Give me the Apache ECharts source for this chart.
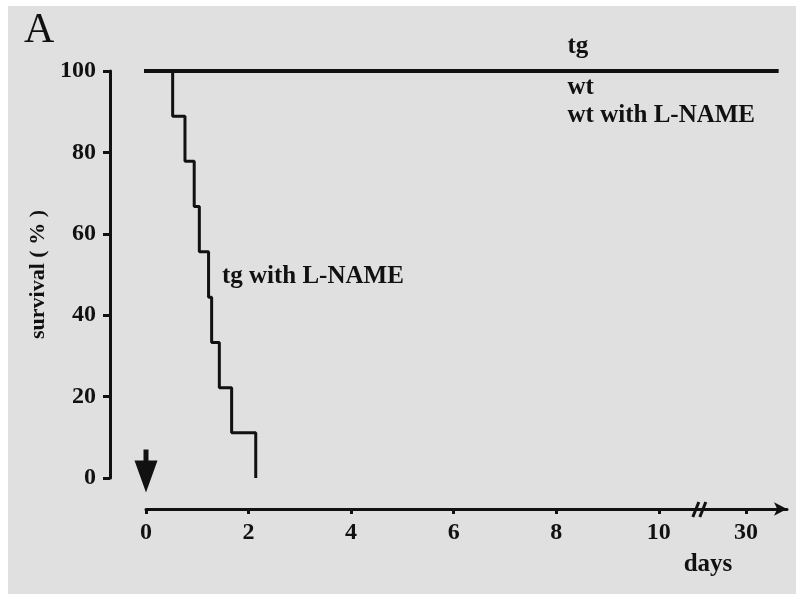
<!DOCTYPE html>
<html>
<head>
<meta charset="utf-8">
<script src="https://cdn.jsdelivr.net/npm/echarts@6/dist/echarts.min.js"></script>
<style>
  html, body { margin: 0; padding: 0; background: #ffffff; }
  #chart { width: 796px; height: 594px; }
</style>
</head>
<body>
<div id="chart"></div>
<script>
// Kaplan-Meier survival after L-NAME treatment (day 0 = start of treatment)
const dayTicks = [0, 2, 4, 6, 8, 10, 30];
const survivalTicks = [0, 20, 40, 60, 80, 100];

// Groups with no deaths over the whole observation period
const flatDays = [-0.18, 30.63];
const tgSurvival = [100, 100];
const wtSurvival = [100, 100];
const wtLnameSurvival = [100, 100];

// tg with L-NAME: one death per step (n = 9)
const tgLnameDays = [0, 0.52, 0.76, 0.94, 1.04, 1.22, 1.28, 1.43, 1.67, 2.14];
const tgLnameSurvival = [100, 88.9, 77.8, 66.7, 55.6, 44.4, 33.3, 22.2, 11.1, 0];

const groupNames = ['tg', 'wt', 'wt with L-NAME', 'tg with L-NAME'];

// Day axis is broken between 10 and 30
const dayBreak = { start: 10.8, end: 29.1 };
const dayMax = 30.8;

const serif = '"Liberation Serif", "DejaVu Serif", serif';
const ink = '#111111';
const xAxisDrop = 31;   // day axis sits below the plot
const yAxisShift = 36;  // survival axis sits left of the plot

const pair = (xs, ys) => xs.map((x, i) => [x, ys[i]]);

const chart = echarts.init(document.getElementById('chart'), null, { renderer: 'canvas' });

const flatStyle = { color: ink, width: 4 };

chart.setOption({
  backgroundColor: '#ffffff',
  animation: false,
  grid: { left: 146, right: 9, top: 71, bottom: 116, containLabel: false },
  xAxis: {
    type: 'value',
    min: 0,
    max: dayMax,
    offset: xAxisDrop,
    breaks: [{ start: dayBreak.start, end: dayBreak.end, gap: 0 }],
    breakArea: { show: false },
    splitLine: { show: false },
    axisLine: {
      show: true,
      onZero: false,
      breakLine: false,
      symbol: ['none', 'arrow'],
      symbolSize: [10, 13],
      lineStyle: { color: ink, width: 3 }
    },
    axisTick: { show: true, length: 5, lineStyle: { color: ink, width: 3 }, customValues: dayTicks },
    axisLabel: {
      customValues: dayTicks,
      margin: 12,
      color: ink,
      fontFamily: serif,
      fontWeight: 'bold',
      fontSize: 24
    }
  },
  yAxis: {
    type: 'value',
    min: 0,
    max: 100,
    interval: 20,
    offset: yAxisShift,
    name: 'survival ( % )',
    nameLocation: 'middle',
    nameGap: 60,
    nameTextStyle: { color: ink, fontFamily: serif, fontWeight: 'bold', fontSize: 22 },
    splitLine: { show: false },
    axisLine: { show: true, onZero: false, lineStyle: { color: ink, width: 3 } },
    axisTick: { show: true, length: 7, lineStyle: { color: ink, width: 3 } },
    axisLabel: {
      margin: 14,
      color: ink,
      fontFamily: serif,
      fontWeight: 'bold',
      fontSize: 24
    }
  },
  series: [
    {
      name: groupNames[0], type: 'line', data: pair(flatDays, tgSurvival),
      symbol: 'none', clip: false, lineStyle: flatStyle, z: 3
    },
    {
      name: groupNames[1], type: 'line', data: pair(flatDays, wtSurvival),
      symbol: 'none', clip: false, lineStyle: flatStyle, z: 3
    },
    {
      name: groupNames[2], type: 'line', data: pair(flatDays, wtLnameSurvival),
      symbol: 'none', clip: false, lineStyle: flatStyle, z: 3
    },
    {
      name: groupNames[3], type: 'line', step: 'end',
      data: pair(tgLnameDays, tgLnameSurvival),
      symbol: 'none', clip: false,
      lineStyle: { color: ink, width: 3 },
      z: 2,
      markPoint: {
        silent: true,
        symbol: 'path://M9,0 L14,0 L14,11 L23,11 L11.5,43 L0,11 L9,11 Z',
        symbolSize: [23, 43],
        symbolOffset: [0, -7],
        itemStyle: { color: ink },
        label: { show: false },
        data: [{ coord: [0, 0] }]
      }
    }
  ]
});

// Text annotations and the break mark, anchored to the axes
const px = (d, s) => chart.convertToPixel({ gridIndex: 0 }, [d, s]);
const flatAnchor = px(8.22, 100);
const curveAnchor = px(1.48, 49.6);
const breakPt = px(dayBreak.start, 0);
const axisY = breakPt[1] + xAxisDrop;
const thirtyPt = px(30, 0);

const labelStyle = (text, x, y, extra) => ({
  type: 'text',
  x: x, y: y,
  style: Object.assign({
    text: text,
    fill: ink,
    font: 'bold 25px ' + serif,
    textAlign: 'left',
    textVerticalAlign: 'middle'
  }, extra || {})
});

chart.setOption({
  graphic: [
    { type: 'rect', z: -10, shape: { x: 8, y: 6, width: 788, height: 588 }, style: { fill: '#e0e0e0' } },
    {
      type: 'text', x: 24, y: 31,
      style: { text: 'A', fill: ink, font: '42px ' + serif, textAlign: 'left', textVerticalAlign: 'middle' }
    },
    labelStyle(groupNames[0], flatAnchor[0], flatAnchor[1] - 24),
    labelStyle(groupNames[1], flatAnchor[0], flatAnchor[1] + 17),
    labelStyle(groupNames[2], flatAnchor[0], flatAnchor[1] + 45),
    labelStyle(groupNames[3], curveAnchor[0], curveAnchor[1]),
    labelStyle('days', thirtyPt[0] - 38, axisY + 56, { textAlign: 'center', font: 'bold 25px ' + serif }),
    {
      type: 'group', z: 10,
      children: [
        { type: 'rect', shape: { x: breakPt[0] - 6, y: axisY - 3, width: 12, height: 6 }, style: { fill: '#e0e0e0' } },
        { type: 'line', shape: { x1: breakPt[0] - 7, y1: axisY + 8, x2: breakPt[0] - 1, y2: axisY - 7 }, style: { stroke: ink, lineWidth: 3 } },
        { type: 'line', shape: { x1: breakPt[0], y1: axisY + 8, x2: breakPt[0] + 6, y2: axisY - 7 }, style: { stroke: ink, lineWidth: 3 } }
      ]
    }
  ]
});
</script>
</body>
</html>
